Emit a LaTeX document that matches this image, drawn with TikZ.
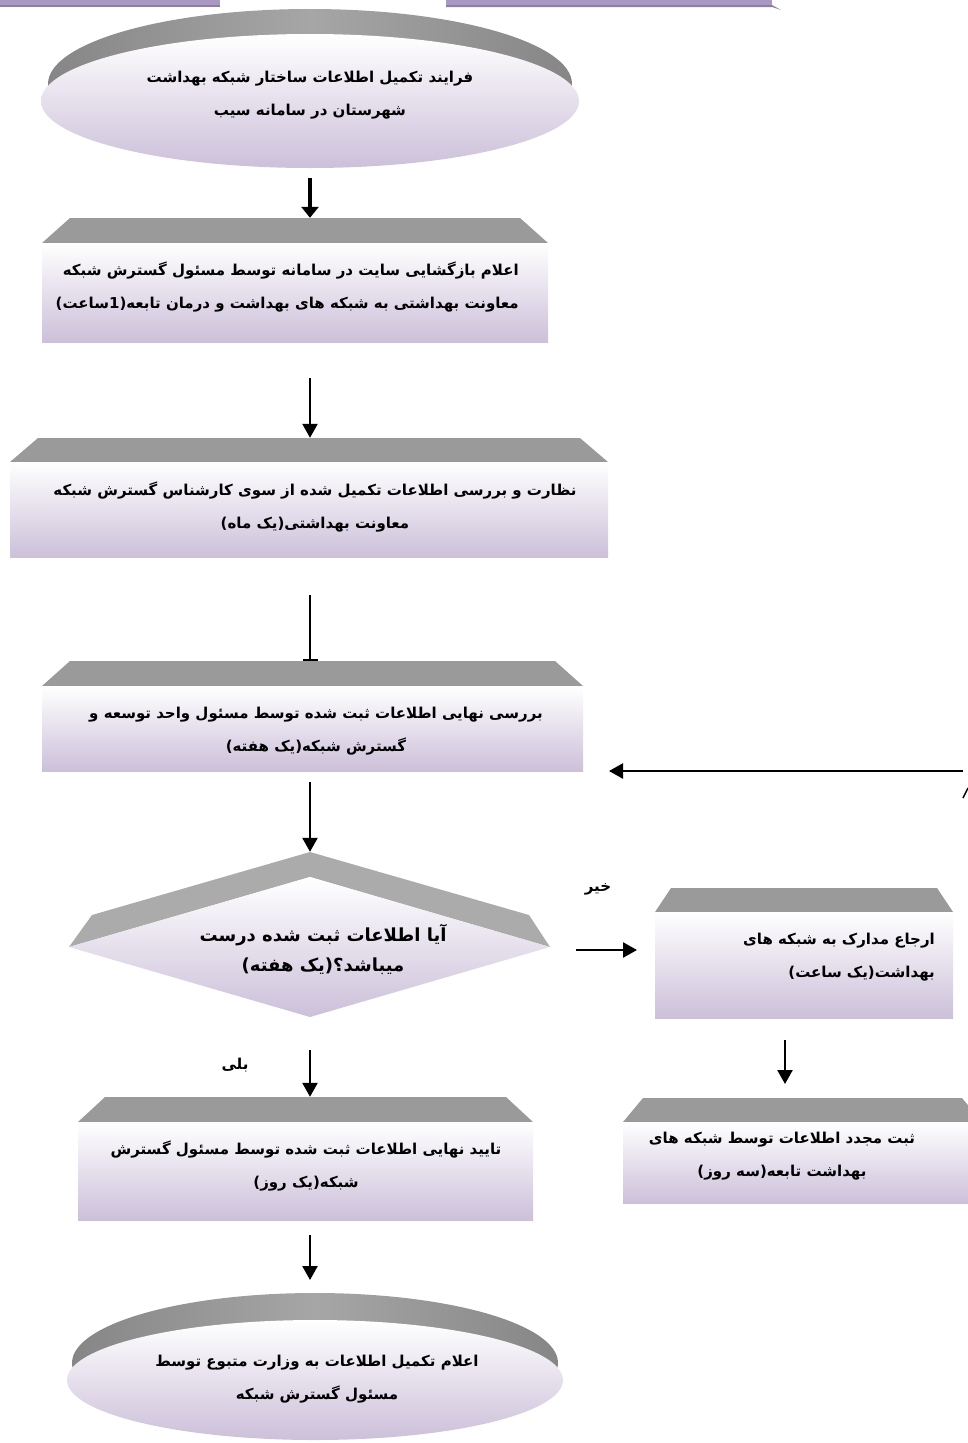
\documentclass[tikz,border=0pt]{standalone}
\usepackage{fontspec}
\usetikzlibrary{arrows.meta}
\newfontfamily\fa[Script=Arabic]{DejaVu Sans}
\TeXXeTstate=1
\definecolor{lav}{HTML}{CCC0DA}
\definecolor{capgray}{HTML}{9A9A9A}
\definecolor{capd}{HTML}{868686}
\definecolor{capl}{HTML}{A6A6A6}
\definecolor{dcap}{HTML}{ABABAB}
\definecolor{topbar}{HTML}{A898C2}
\definecolor{topbard}{HTML}{8C7FA6}
\newcommand\flowstepbox[6]{%
  \fill[capgray] (#1+#6,#3) -- (#2-#6,#3) -- (#2,#4) -- (#1,#4) -- cycle;
  \shade[top color=white,bottom color=lav] (#1,#4) rectangle (#2,#5);}
\begin{document}
\begin{tikzpicture}[x=1pt,y=-1pt,
  arr/.style={line width=2.5pt,-{Triangle[length=14pt,width=15pt]}},
  arrthick/.style={line width=4pt,-{Triangle[length=11pt,width=17pt]}},
  txt/.style={font=\fa\bfseries\fontsize{15}{33}\selectfont,inner sep=0pt},
  bigtxt/.style={font=\fa\bfseries\fontsize{18}{30}\selectfont,inner sep=0pt},
  holder/.style={draw=none,inner sep=0pt}]
\useasboundingbox (0,0) rectangle (968,1443);
\clip (0,0) rectangle (968,1443);

% partial shapes at the top edge
\fill[topbar] (0,0) rectangle (220,5);
\fill[topbard] (0,5) rectangle (220,7);
\fill[topbar] (446,0) rectangle (772,5);
\fill[topbard] (446,5) -- (772,5) -- (781,10) -- (772,7) -- (446,7) -- cycle;

% start ellipse
\shade[left color=capd,right color=capd,middle color=capl] (310,84) ellipse [x radius=262pt, y radius=75pt];
\shade[top color=white,bottom color=lav] (310,101) ellipse [x radius=269pt, y radius=67pt];
\node[holder,minimum width=538pt,minimum height=159pt] (e1) at (310,88.5) {};
\node[txt,align=center] (t1) at (310,95) {\beginR فرایند تکمیل اطلاعات ساختار شبکه بهداشت\endR\\\beginR شهرستان در سامانه سیب\endR};

% box 1
\flowstepbox{42}{548}{218}{243}{342}{28}
\node[holder,minimum width=506pt,minimum height=124pt] (b1) at (295,280) {};
\node[txt,align=right,anchor=east] (tb1) at (519,287) {\beginR اعلام بازگشایی سایت در سامانه توسط مسئول گسترش شبکه\endR\\\beginR معاونت بهداشتی به شبکه های بهداشت و درمان تابعه(1ساعت)\endR};

% box 2
\flowstepbox{10}{608}{438}{462}{557}{28}
\node[holder,minimum width=598pt,minimum height=119pt] (b2) at (309,497.5) {};
\node[txt,align=center] (tb2) at (315,507) {\beginR نظارت و بررسی اطلاعات تکمیل شده از سوی کارشناس گسترش شبکه\endR\\\beginR معاونت بهداشتی(یک ماه)\endR};

% box 3
\flowstepbox{42}{583}{661}{686}{771}{28}
\node[holder,minimum width=541pt,minimum height=110pt] (b3) at (312.5,716) {};
\node[txt,align=center] (tb3) at (316,731) {\beginR بررسی نهایی اطلاعات ثبت شده توسط مسئول واحد توسعه و\endR\\\beginR گسترش شبکه(یک هفته)\endR};

% decision diamond
\fill[dcap] (310,852) -- (529,915) -- (550,947) -- (310,877) -- (69,947) -- (92,915) -- cycle;
\shade[top color=white,bottom color=lav] (310,877) -- (550,947) -- (310,1017) -- (69,947) -- cycle;
\node[holder,minimum width=481pt,minimum height=165pt] (dia) at (310,934.5) {};
\node[bigtxt,align=center] (td) at (323,949) {\beginR آیا اطلاعات ثبت شده  درست\endR\\\beginR میباشد؟(یک هفته)\endR};

% right box 1
\flowstepbox{655}{953}{888}{912}{1018}{16}
\node[holder,minimum width=298pt,minimum height=130pt] (r1) at (804,953) {};
\node[txt,align=right,anchor=east] (tr1) at (935,957) {\beginR ارجاع مدارک به شبکه های\endR\\\beginR بهداشت(یک ساعت)\endR};

% right box 2
\flowstepbox{623}{982}{1098}{1122}{1203}{20}
\node[holder,minimum width=359pt,minimum height=105pt] (r2) at (802.5,1150.5) {};
\node[txt,align=center] (tr2) at (782,1156) {\beginR ثبت مجدد اطلاعات توسط شبکه های\endR\\\beginR بهداشت تابعه(سه روز)\endR};

% box 4
\flowstepbox{78}{533}{1097}{1122}{1220}{27}
\node[holder,minimum width=455pt,minimum height=123pt] (b4) at (305.5,1158.5) {};
\node[txt,align=center] (tb4) at (306,1166) {\beginR تایید نهایی اطلاعات ثبت شده توسط مسئول گسترش\endR\\\beginR شبکه(یک روز)\endR};

% end ellipse
\shade[left color=capd,right color=capd,middle color=capl] (315,1363) ellipse [x radius=243pt, y radius=70pt];
\shade[top color=white,bottom color=lav] (315,1380) ellipse [x radius=248pt, y radius=60pt];
\node[holder,minimum width=495pt,minimum height=147pt] (e2) at (315,1366.5) {};
\node[txt,align=center] (t2) at (317,1379) {\beginR اعلام تکمیل اطلاعات به وزارت متبوع توسط\endR\\\beginR مسئول گسترش شبکه\endR};

% labels
\node[txt] (lno) at (598,889) {\beginR خیر\endR};
\node[txt] (lyes) at (235,1065) {\beginR بلی\endR};

% connectors
\coordinate (s1) at (310,178);
\coordinate (s2) at (310,378);
\coordinate (s3) at (310,595);
\coordinate (s4) at (963,771);
\coordinate (e4) at (609,771);
\coordinate (s5) at (310,782);
\coordinate (s6) at (576,950);
\coordinate (e6) at (637,950);
\coordinate (s7) at (785,1040);
\coordinate (e7) at (785,1084);
\coordinate (s8) at (310,1050);
\coordinate (s9) at (310,1235);
\coordinate (e9) at (310,1280);
\draw[arrthick] (s1) -- (s1 |- b1.north);
\draw[arr] (s2) -- (s2 |- b2.north);
\draw[line width=2.5pt,-{Bar[width=15pt,line width=2pt]}] (s3) -- (s3 |- b3.north);
\draw[arr] (s4) -- (e4);
\draw[arr] (s5) -- (s5 |- dia.north);
\draw[arr] (s6) -- (e6);
\draw[arr] (s7) -- (e7);
\draw[arr] (s8) -- (s8 |- b4.north);
\draw[arr] (s9) -- (e9);
\draw[line width=1.5pt] (963,798) -- (968,788);
\end{tikzpicture}
\end{document}
